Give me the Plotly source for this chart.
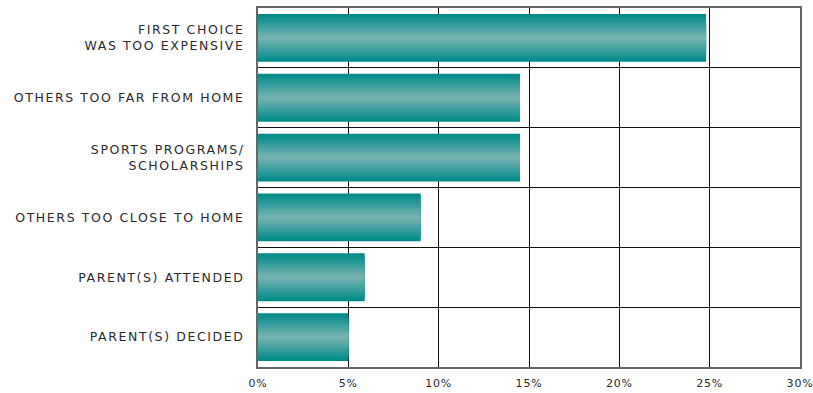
import plotly.graph_objects as go

categories = [
    "FIRST CHOICE<br>WAS TOO EXPENSIVE",
    "OTHERS TOO FAR FROM HOME",
    "SPORTS PROGRAMS/<br>SCHOLARSHIPS",
    "OTHERS TOO CLOSE TO HOME",
    "PARENT(S) ATTENDED",
    "PARENT(S) DECIDED",
]
values = [24.8, 14.5, 14.5, 9.0, 5.9, 5.0]
tick_vals = [0, 5, 10, 15, 20, 25, 30]
tick_text = ["0%", "5%", "10%", "15%", "20%", "25%", "30%"]

dark = (0, 139, 138)
light = (116, 178, 175)
n_layers = 12
bar_width = 0.8

fig = go.Figure()
for k in range(n_layers):
    t = k / (n_layers - 1)
    c = tuple(round(dark[i] + (light[i] - dark[i]) * t) for i in range(3))
    w = bar_width * (1 - k / n_layers)
    fig.add_trace(go.Bar(
        x=values, y=categories, orientation="h",
        width=[w] * len(values),
        marker=dict(color="rgb(%d,%d,%d)" % c, line=dict(width=0)),
        hoverinfo="skip", showlegend=False,
    ))

fig.update_layout(
    width=813, height=393,
    margin=dict(l=258, r=13, t=8, b=26),
    barmode="overlay",
    plot_bgcolor="white", paper_bgcolor="white",
    font=dict(family="DejaVu Sans", size=12, color="#2a2a2a"),
)
fig.update_xaxes(
    range=[0, 30], tickvals=tick_vals, ticktext=tick_text,
    showgrid=True, gridcolor="#111", gridwidth=1,
    showline=True, linecolor="#666", linewidth=2, mirror=True,
    zeroline=False, ticks="", tickfont=dict(size=11),
    automargin=False, ticklabelstandoff=5,
)
fig.update_yaxes(
    autorange="reversed", type="category", tickson="boundaries",
    showgrid=True, gridcolor="#111", gridwidth=1,
    showline=True, linecolor="#666", linewidth=2, mirror=True,
    ticks="", ticklabelstandoff=9, tickfont=dict(size=12.5),
    automargin=False,
)

post = """
document.body.style.margin='0';
var gd=document.getElementById('{plot_id}');
function ls(){
  gd.querySelectorAll('.ytick text').forEach(function(e){e.style.letterSpacing='1.6px';});
  gd.querySelectorAll('.xtick text').forEach(function(e){e.style.letterSpacing='0.8px';});
}
ls();
if (gd.on) gd.on('plotly_afterplot', ls);
"""
fig.write_html("out.html", post_script=post, config={"displayModeBar": False})
